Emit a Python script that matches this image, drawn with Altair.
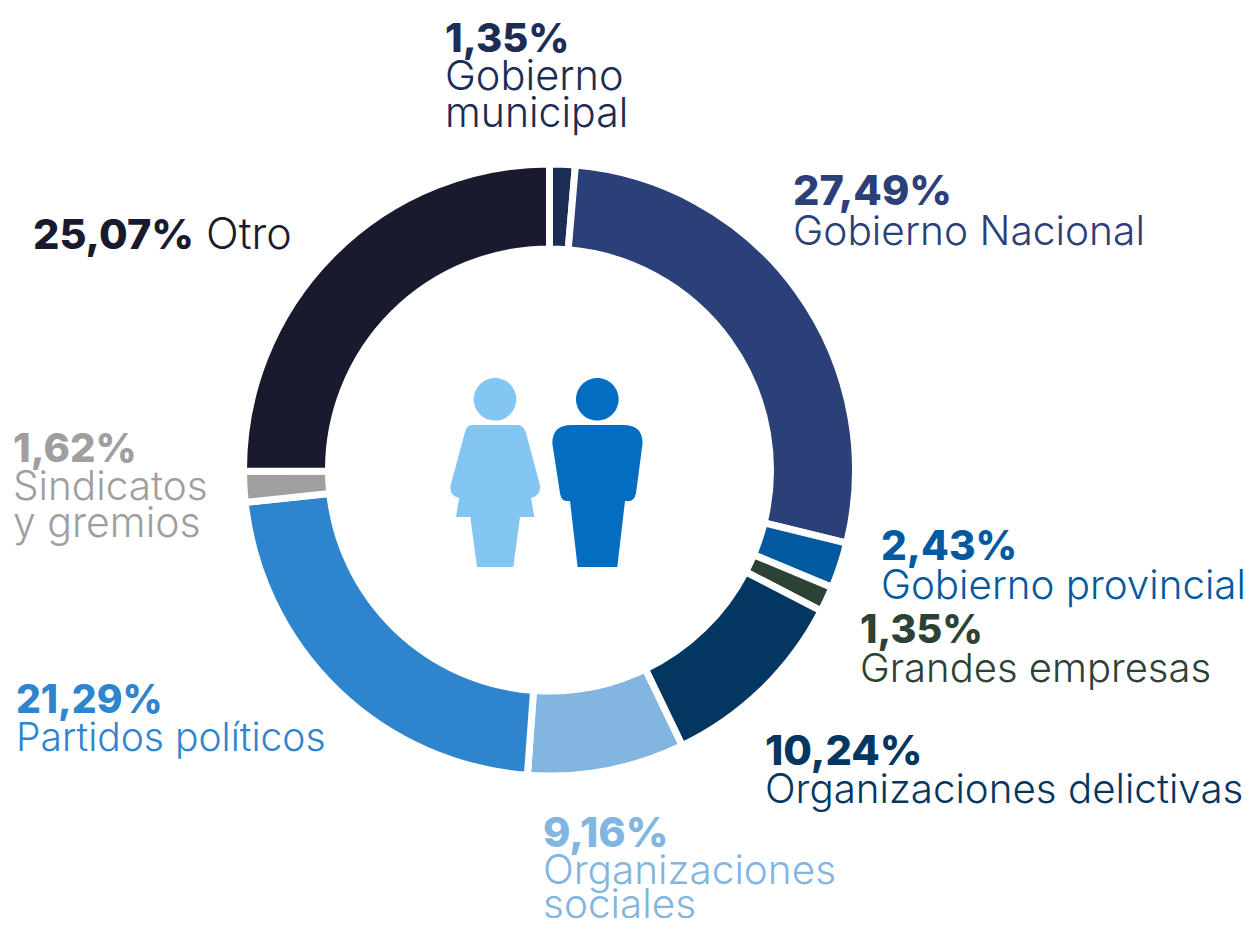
import altair as alt

categories = ["Gobierno municipal", "Gobierno Nacional", "Gobierno provincial", "Grandes empresas",
              "Organizaciones delictivas", "Organizaciones sociales", "Partidos políticos",
              "Sindicatos y gremios", "Otro"]
# Slice sizes as drawn in the picture (the printed labels below give 9,16% and 21,29% for two slices
# that are drawn at about 8,29 and 22,16).
values = [1.35, 27.49, 2.43, 1.35, 10.24, 8.29, 22.16, 1.62, 25.07]
colors = ["#1b2d54", "#2b4078", "#015a9f", "#2b4235", "#033661", "#82b5e0", "#2e85cd", "#a09e9e", "#1a1a2e"]
order = list(range(len(values)))

OX, OY = 8, 8
W, H = 1238, 910
FONT = "Inter"
cx, cy = 549.5 - OX, 470 - OY

table = [{"cat": c, "val": v, "ord": o} for c, v, o in zip(categories, values, order)]

arcs = alt.Chart(alt.Data(values=table)).mark_arc(
    outerRadius=306, innerRadius=221, stroke="white", strokeWidth=7, x=cx, y=cy
).encode(
    theta=alt.Theta("val:Q", stack=True, scale=alt.Scale(domain=[0, 100])),
    order=alt.Order("ord:Q"),
    color=alt.Color("cat:N", scale=alt.Scale(domain=categories, range=colors), legend=None),
)


def label(text, x, y, color, size, bold=False):
    return alt.Chart(alt.Data(values=[{"t": text}])).mark_text(
        x=x - OX, y=y - OY, align="left", baseline="alphabetic", font=FONT,
        fontSize=size, fontWeight=800 if bold else 300, color=color,
    ).encode(text="t:N")


labels = [
    label("1,35%", 445, 52, colors[0], 40, True),
    label("Gobierno", 445, 90, colors[0], 41.5),
    label("municipal", 445, 127, colors[0], 41),
    label("27,49%", 793, 205, colors[1], 41.5, True),
    label("Gobierno Nacional", 793, 245, colors[1], 40.7),
    label("2,43%", 881, 560, colors[2], 40.5, True),
    label("Gobierno provincial", 881, 599, colors[2], 40.3),
    label("1,35%", 860, 643, colors[3], 39.5, True),
    label("Grandes empresas", 860, 682, colors[3], 40),
    label("10,24%", 765, 765, colors[4], 41.5, True),
    label("Organizaciones delictivas", 765, 803, colors[4], 40.3),
    label("9,16%", 543, 847, colors[5], 41.5, True),
    label("Organizaciones", 543, 884, colors[5], 40.5),
    label("sociales", 543, 918, colors[5], 40.5),
    label("21,29%", 16, 713, colors[6], 39, True),
    label("Partidos políticos", 16, 751, colors[6], 39),
    label("1,62%", 13, 462, colors[7], 40, True),
    label("Sindicatos", 13, 500, colors[7], 40.5),
    label("y gremios", 13, 537, colors[7], 41),
    label("25,07%", 33, 249, colors[8], 41.5, True),
    label("Otro", 206, 249, colors[8], 43),
]

WOMAN = ("M-23 -45 L23 -45 Q28 -45 30.7 -38 L45 15 Q46 26 36 27.7 L39.3 47 L25 47 L18.3 97 L-18 97 "
         "L-24.7 47 L-39 47 L-35.7 27.7 Q-46 26 -44.3 15 L-30 -38 Q-28 -45 -23 -45 Z")
MAN = ("M-25.7 -45 L26 -45 Q45.3 -45 45.3 -26.7 L38.7 23.3 Q37 31 31.7 31 L27.7 31 L20 97 L-19.7 97 "
       "L-27.3 31 L-31 31 Q-36 31 -37.3 23.3 L-45 -26.7 Q-45 -45 -25.7 -45 Z")
HEAD = "M-21.3 0 A21.3 21.3 0 1 1 21.3 0 A21.3 21.3 0 1 1 -21.3 0 Z"


def glyph(path, x, y, color):
    return alt.Chart(alt.Data(values=[{"k": 1}])).mark_point(
        shape=path, size=4, filled=True, opacity=1, color=color, strokeWidth=0,
        x=x - OX, y=y - OY,
    ).encode(detail="k:N")


icons = [
    glyph(HEAD, 495, 399.3, "#82c6f1"),
    glyph(WOMAN, 495, 470, "#82c6f1"),
    glyph(HEAD, 597.3, 399.3, "#036dc1"),
    glyph(MAN, 597.3, 470, "#036dc1"),
]

chart = alt.layer(arcs, *icons, *labels).properties(
    width=W, height=H, padding=0, autosize=alt.AutoSizeParams(type="none"), background="white",
).configure_view(stroke=None)

chart.save("out.html", embed_options={"renderer": "svg", "actions": False})
